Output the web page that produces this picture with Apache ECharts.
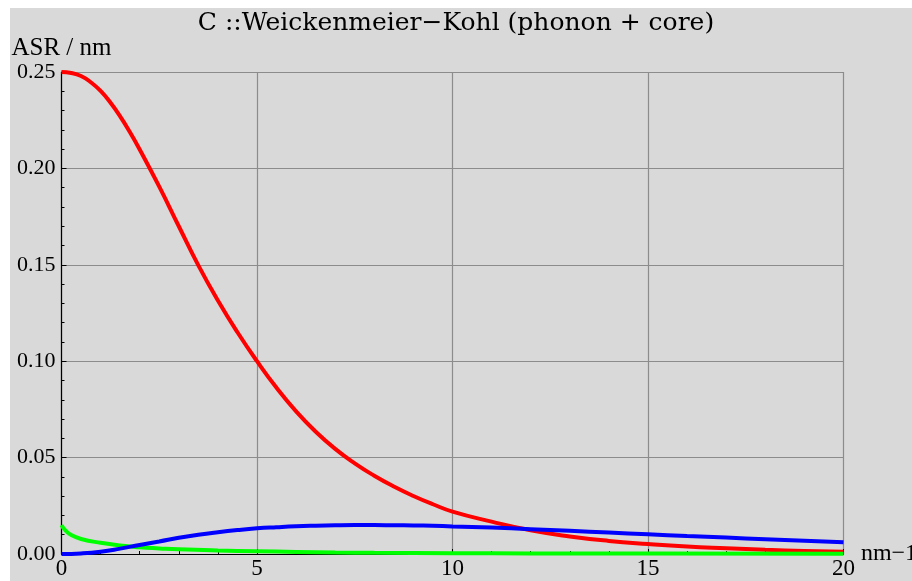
<!DOCTYPE html>
<html>
<head>
<meta charset="utf-8">
<script src="https://cdn.jsdelivr.net/npm/echarts@6/dist/echarts.min.js"></script>
<style>
  html, body { margin: 0; padding: 0; background: #fff; }
  #main { width: 912px; height: 581px; }
</style>
</head>
<body>
<div id="main"></div>
<script>
// red curve: sample positions (nm-1) and values (nm)
const redX = [0, 0.25, 0.5, 0.75, 1, 1.25, 1.5, 1.75, 2, 2.5, 3, 3.5, 4, 4.5, 5, 5.5, 6, 6.5, 7, 7.5,
              8, 8.5, 9, 9.5, 10, 11, 12, 13, 14, 15, 16, 17, 18, 19, 20];
const redY = [0.2500, 0.2495, 0.2479, 0.2447, 0.2402, 0.2342, 0.2270, 0.2188, 0.2098, 0.1905, 0.1700,
              0.1497, 0.1315, 0.1150, 0.1000, 0.0862, 0.0740, 0.0635, 0.0545, 0.0470,
              0.0406, 0.0350, 0.0301, 0.0258, 0.0220, 0.0168, 0.0123, 0.0091, 0.0068, 0.0052,
              0.0039, 0.0030, 0.0022, 0.0016, 0.0012];
// blue curve
const blueX = [0, 0.5, 1, 1.5, 2, 2.5, 3, 3.5, 4, 4.5, 5, 5.5, 6, 6.5, 7, 7.5, 8, 8.5, 9, 9.5, 10,
               11, 12, 13, 14, 15, 16, 17, 18, 19, 20];
const blueY = [0, 0.0003, 0.0012, 0.0028, 0.0047, 0.0065, 0.0084, 0.0100, 0.0113, 0.0124, 0.0133,
               0.0139, 0.0144, 0.0147, 0.0149, 0.0150, 0.0150, 0.0149, 0.0148, 0.0146, 0.0143,
               0.0137, 0.0129, 0.0120, 0.0111, 0.0102, 0.0093, 0.0085, 0.0077, 0.0069, 0.0061];
// green curve
const greenX = [0, 0.1, 0.25, 0.5, 1, 1.5, 2, 2.5, 3, 4, 5, 6, 7, 8, 10, 12, 15, 20];
const greenY = [0.0150, 0.0122, 0.0098, 0.0078, 0.0058, 0.0044, 0.0035, 0.0029, 0.0024, 0.0018,
                0.0014, 0.0011, 0.0008, 0.0006, 0.0004, 0.0003, 0.0002, 0.0001];

const font = "'Liberation Serif', 'DejaVu Serif', serif";
const pair = (x, y) => x.map((v, i) => [v, y[i]]);

const chart = echarts.init(document.getElementById("main"));
chart.setOption({
  animation: false,
  textStyle: { fontFamily: font },
  graphic: [
    {
      type: "rect",
      left: 10,
      top: 8,
      z: -10,
      shape: { width: 902, height: 573 },
      style: { fill: "#d9d9d9" },
    },
  ],
  title: {
    text: "C ::Weickenmeier\u2212Kohl (phonon + core)",
    left: "center",
    top: 6,
    textStyle: { fontFamily: "'DejaVu Serif', serif", fontSize: 25, fontWeight: "normal", color: "#000" },
  },
  grid: { left: 61.5, right: 68.5, top: 72, bottom: 27, outerBoundsMode: "none", containLabel: false },
  xAxis: {
    type: "value",
    min: 0,
    max: 20,
    interval: 5,
    name: "nm\u22121",
    nameLocation: "end",
    nameGap: 10,
    nameTextStyle: { fontFamily: font, fontSize: 24, color: "#000", verticalAlign: "middle", padding: [0, 0, 8, 0] },
    axisLine: { lineStyle: { color: "#000", width: 1.2 } },
    axisTick: { inside: true, length: 5, lineStyle: { color: "#000" } },
    minorTick: { show: true, splitNumber: 5, length: 3, lineStyle: { color: "#000" } },
    axisLabel: { fontFamily: font, fontSize: 23, color: "#000", margin: 3 },
    splitLine: { show: true, lineStyle: { color: "#8c8c8c", width: 1.2 } },
  },
  yAxis: {
    type: "value",
    min: 0,
    max: 0.25,
    interval: 0.05,
    name: "ASR / nm",
    nameLocation: "end",
    nameGap: 8,
    nameTextStyle: { fontFamily: font, fontSize: 25, color: "#000", align: "center", verticalAlign: "bottom" },
    axisLine: { show: true, lineStyle: { color: "#000", width: 1.2 } },
    axisTick: { show: true, inside: true, length: 5, lineStyle: { color: "#000" } },
    minorTick: { show: true, splitNumber: 5, length: 3, lineStyle: { color: "#000" } },
    axisLabel: {
      fontFamily: font,
      fontSize: 22,
      color: "#000",
      margin: 6,
      formatter: (v) => v.toFixed(2),
    },
    splitLine: { show: true, lineStyle: { color: "#8c8c8c", width: 1.2 } },
  },
  series: [
    {
      type: "line",
      data: pair(redX, redY),
      smooth: true,
      showSymbol: false,
      lineStyle: { color: "#ff0000", width: 4 },
    },
    {
      type: "line",
      data: pair(greenX, greenY),
      smooth: true,
      showSymbol: false,
      lineStyle: { color: "#00ff00", width: 4 },
    },
    {
      type: "line",
      data: pair(blueX, blueY),
      smooth: true,
      showSymbol: false,
      lineStyle: { color: "#0000ff", width: 4 },
    },
  ],
});
</script>
</body>
</html>
